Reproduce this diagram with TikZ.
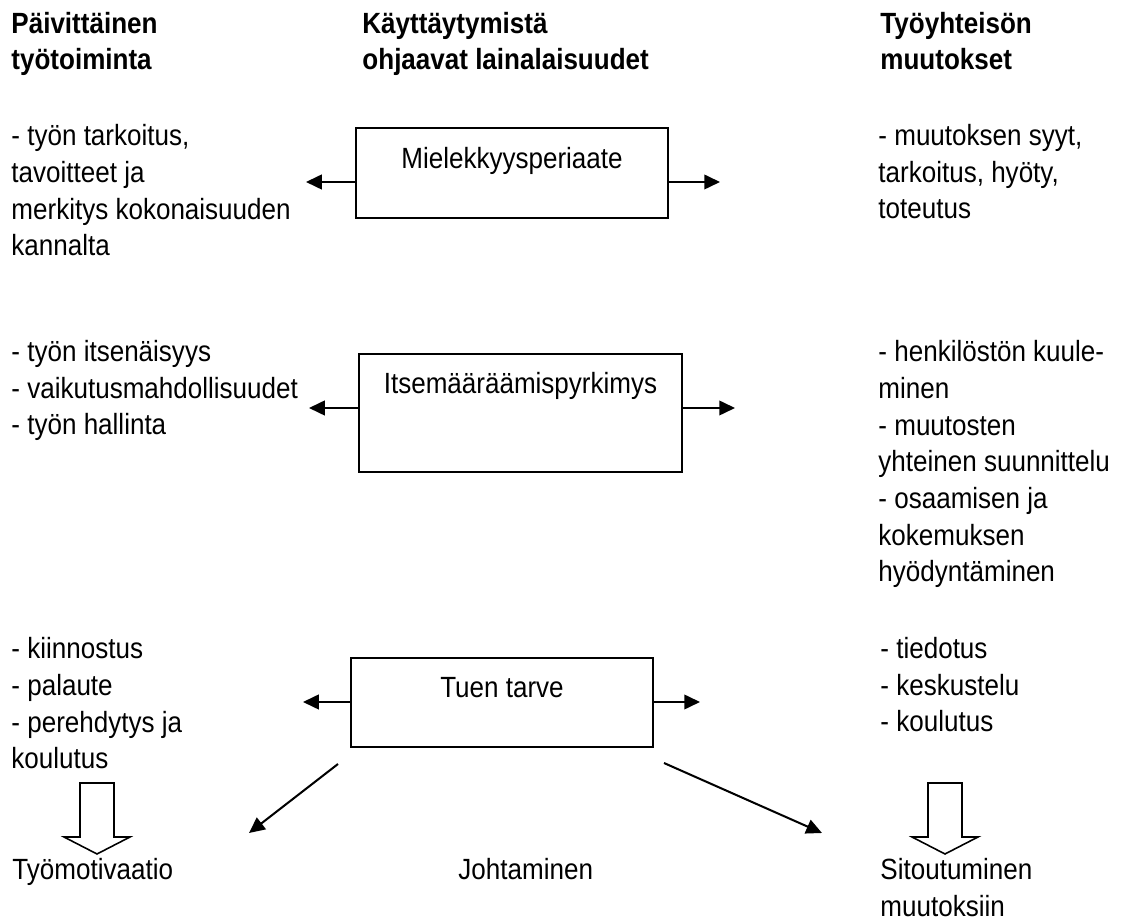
\documentclass[tikz,border=0pt]{standalone}
\usepackage{fontspec}
\setmainfont[FakeStretch=0.89]{Liberation Sans}
\usetikzlibrary{arrows.meta,positioning}

\begin{document}
\begin{tikzpicture}[x=0.4445pt, y=-0.4445pt,
  font=\fontsize{13pt}{16.3pt}\selectfont,
  txt/.style={anchor=base west, inner sep=0pt, align=left},
  head/.style={txt, font=\fontsize{13pt}{16.3pt}\selectfont\bfseries},
  lawbox/.style={draw, line width=0.8pt, inner sep=0pt},
  lawlabel/.style={anchor=base, inner sep=0pt},
  side/.style={-{Triangle[length=7pt,width=6.5pt]}, line width=0.9pt},
  hollow/.pic={\draw[line width=0.7pt] (-17,0) -- (17,0) -- (17,54) -- (33,54)
    -- (0,71) -- (-33,54) -- (-17,54) -- cycle;}]
  \useasboundingbox (0,0) rectangle (1121,919);

  % column headings (placed at the baseline of their last line)
  \node[head] (hdaily) at (11,70) {Päivittäinen\\työtoiminta};
  \node[head] (hlaws) at (362,70) {Käyttäytymistä\\ohjaavat lainalaisuudet};
  \node[head] (hchange) at (880,70) {Työyhteisön\\muutokset};

  % the three principles
  \node[lawbox, minimum width=138.7pt, minimum height=40pt] (meaning) at (512,173) {};
  \node[lawlabel] (meaninglbl) at ([yshift=-18.2pt]meaning.north) {Mielekkyysperiaate};
  \node[lawbox, minimum width=143.6pt, minimum height=52.5pt] (autonomy) at (520.5,413) {};
  \node[lawlabel] (autonomylbl) at ([yshift=-17.8pt]autonomy.north) {Itsemääräämispyrkimys};
  \node[lawbox, minimum width=134.2pt, minimum height=39.6pt] (support) at (502,702.5) {};
  \node[lawlabel] (supportlbl) at ([yshift=-17.8pt]support.north) {Tuen tarve};

  % daily work
  \node[txt] (dailyA) at (11,256) {- työn tarkoitus,\\tavoitteet ja\\merkitys kokonaisuuden\\kannalta};
  \node[txt] (dailyB) at (11,435) {- työn itsenäisyys\\- vaikutusmahdollisuudet\\- työn hallinta};
  \node[txt] (dailyC) at (11,769) {- kiinnostus\\- palaute\\- perehdytys ja\\koulutus};

  % changes
  \node[txt] (changeA) at (878,219) {- muutoksen syyt,\\tarkoitus, hyöty,\\toteutus};
  \node[txt] (changeB) at (878,582) {- henkilöstön kuule-\\minen\\- muutosten\\yhteinen suunnittelu\\- osaamisen ja\\kokemuksen\\hyödyntäminen};
  \node[txt] (changeC) at (880,732) {- tiedotus\\- keskustelu\\- koulutus};

  % outcomes
  \node[txt] (motivation) at (12,880) {Työmotivaatio};
  \node[txt] (leading) at (458,880) {Johtaminen};
  \node[txt] (commitment) at (880,916) {Sitoutuminen\\muutoksiin};

  % side arrows
  \coordinate (mL) at (306,182); \coordinate (mR) at (720,182);
  \coordinate (aL) at (309,408); \coordinate (aR) at (735,408);
  \coordinate (sL) at (303,702); \coordinate (sR) at (700,702);
  \draw[side] (meaning.west |- mL) -- (mL);
  \draw[side] (meaning.east |- mR) -- (mR);
  \draw[side] (autonomy.west |- aL) -- (aL);
  \draw[side] (autonomy.east |- aR) -- (aR);
  \draw[side] (support.west |- sL) -- (sL);
  \draw[side] (support.east |- sR) -- (sR);

  % towards the outcomes
  \coordinate (dL0) at (338,764); \coordinate (dL) at (249,833);
  \coordinate (dR0) at (664,763); \coordinate (dR) at (822,833);
  \draw[side] (dL0) -- (dL);
  \draw[side] (dR0) -- (dR);
  \pic at (97,783) {hollow};
  \pic at (945,783) {hollow};
\end{tikzpicture}
\end{document}
